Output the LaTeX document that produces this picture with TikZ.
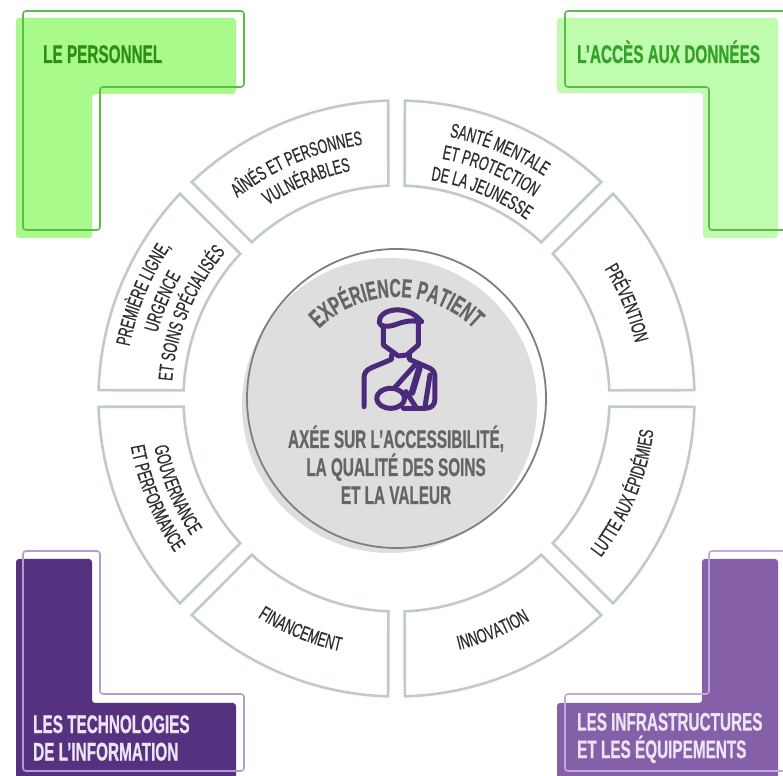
\documentclass[tikz,border=0pt]{standalone}
\usepackage{fontspec}
\usepackage{xcolor}
\usepackage{tikz}
\usetikzlibrary{decorations.text}

\newfontfamily\capfont[FakeStretch=0.60,FakeBold=0.6]{Liberation Sans}
\newfontfamily\segfont[FakeStretch=0.62,FakeBold=0.5]{Liberation Sans}

\definecolor{greenA}{HTML}{A8FB8A}
\definecolor{greenB}{HTML}{BFFCAE}
\definecolor{greenline}{HTML}{5DBB4B}
\definecolor{greentext}{HTML}{2F8F14}
\definecolor{greentextB}{HTML}{35A02A}
\definecolor{purpleA}{HTML}{56317F}
\definecolor{purpleB}{HTML}{8560A8}
\definecolor{purplelineA}{HTML}{B79AD2}
\definecolor{purplelineB}{HTML}{C4A8DE}
\definecolor{purpletext}{HTML}{EDE3F4}
\definecolor{ringline}{HTML}{BFCDC0}
\definecolor{disc}{HTML}{DEDEDE}
\definecolor{discline}{HTML}{7F7F7F}
\definecolor{disctext}{HTML}{656565}
\definecolor{iconline}{HTML}{4B2A7B}
\definecolor{segtext}{HTML}{2D2D33}

\tikzset{
	cornerfill/.style={rounded corners=3, draw=none},
	cornerline/.style={rounded corners=3, line width=1.6, fill=none},
	cornertext/.style={inner sep=0, align=left, font=\capfont\bfseries\fontsize{25.5}{27.5}\selectfont},
	disctitle/.style={inner sep=0, align=center, text=disctext, font=\capfont\bfseries\fontsize{25.5}{28}\selectfont},
	segment/.style={draw=ringline, line width=2.6, line join=miter, fill=white},
	iconstroke/.style={draw=iconline, line width=5, line cap=round, line join=round}
}

% tops of the letters towards the outside, read clockwise
\newcommand{\labelout}[3]{
	\path[decorate, decoration={text along path, text align=center, text={|\segfont\fontsize{20}{20}\selectfont\color{segtext}|#3}}]
		({#1+24}:#2) arc[start angle={#1+24}, end angle={#1-24}, radius=#2];
}
% tops of the letters towards the centre, read anticlockwise
\newcommand{\labelin}[3]{
	\path[decorate, decoration={text along path, text align=center, text={|\segfont\fontsize{20}{20}\selectfont\color{segtext}|#3}}]
		({#1-24}:#2) arc[start angle={#1-24}, end angle={#1+24}, radius=#2];
}

\begin{document}
\begin{tikzpicture}[x=1pt, y=1pt]
	\useasboundingbox (0,0) rectangle (783,775);
	\clip (0,0) rectangle (783,775);
	\fill[white] (0,0) rectangle (783,775);

	% Corners
	\fill[greenA, cornerfill] (16,757) -- (236,757) -- (236,681) -- (92,681) -- (92,537) -- (16,537) -- cycle;
	\draw[greenline, cornerline] (23,764) -- (244,764) -- (244,688) -- (100,688) -- (100,545) -- (23,545) -- cycle;
	\fill[greenB, cornerfill] (557,757) -- (778,757) -- (778,537) -- (703,537) -- (703,682) -- (557,682) -- cycle;
	\draw[greenline, cornerline] (565,764) -- (800,764) -- (800,545) -- (709,545) -- (709,688) -- (565,688) -- cycle;
	\fill[purpleA, cornerfill] (16,216) -- (92,216) -- (92,72) -- (236,72) -- (236,-10) -- (16,-10) -- cycle;
	\draw[purplelineA, cornerline] (23,224) -- (100,224) -- (100,81) -- (244,81) -- (244,4) -- (23,4) -- cycle;
	\fill[purpleB, cornerfill] (702,216) -- (778,216) -- (778,-10) -- (557,-10) -- (557,72) -- (702,72) -- cycle;
	\draw[purplelineB, cornerline] (709,224) -- (800,224) -- (800,4) -- (565,4) -- (565,81) -- (709,81) -- cycle;

	% Corner texts
	\node (personnel) [cornertext, text=greentext, anchor=base west] at (43,712) {LE PERSONNEL};
	\node (donnees) [cornertext, text=greentextB, anchor=base west] at (577,712) {L’ACCÈS AUX DONNÉES};
	\node (techno) [cornertext, text=purpletext, anchor=west] at (33,37) {LES TECHNOLOGIES\\DE L’INFORMATION};
	\node (infra) [cornertext, text=purpletext, anchor=west] at (577,37) {LES INFRASTRUCTURES\\ET LES ÉQUIPEMENTS};

	% Ring
	\begin{scope}[shift={(396.5,376.5)}]
		\foreach \a in {22.5,67.5,...,337.5}{
			\draw[segment] ({\a+20.9}:298) arc[start angle={\a+20.9}, end angle={\a-20.9}, radius=298]
				-- ({\a-20.3}:213) arc[start angle={\a-20.3}, end angle={\a+20.3}, radius=213] -- cycle;
		}
		\labelout{67.5}{267}{SANTÉ MENTALE}
		\labelout{67.5}{244}{ET PROTECTION}
		\labelout{67.5}{221}{DE LA JEUNESSE}
		\labelout{113}{256}{AÎNÉS ET PERSONNES}
		\labelout{112.5}{232}{VULNÉRABLES}
		\labelout{157.5}{272}{PREMIÈRE LIGNE,}
		\labelout{157.5}{248}{URGENCE}
		\labelout{157.5}{225}{ET SOINS SPÉCIALISÉS}
		\labelout{22.5}{245}{PRÉVENTION}
		\labelin{-22.5}{259}{LUTTE AUX ÉPIDÉMIES}
		\labelin{-67.5}{259}{INNOVATION}
		\labelin{-112.5}{259}{FINANCEMENT}
		\labelin{-157.5}{247}{GOUVERNANCE}
		\labelin{-157.5}{270}{ET PERFORMANCE}
	\end{scope}

	% Disc
	\fill[disc] (389.5,369.5) circle (147.5);
	\draw[discline, line width=1.8] (396.5,376.5) circle (149.5);
	\path[decorate, decoration={text along path, text align=center, text={|\capfont\bfseries\fontsize{26}{26}\selectfont\color{disctext}|EXPÉRIENCE PATIENT}}]
		(396.5,368) ++(150:110) arc[start angle=150, end angle=30, radius=110];
	\node (axee) [disctitle, anchor=base] at (396,327) {AXÉE SUR L’ACCESSIBILITÉ,};
	\node (qualite) [disctitle, anchor=base] at (396,299) {LA QUALITÉ DES SOINS};
	\node (valeur) [disctitle, anchor=base] at (396,271) {ET LA VALEUR};

	% Patient
	\begin{scope}[shift={(350,475)}, x=0.3333pt, y=-0.3333pt]
		\draw[iconstroke] (100,78) -- (100,135) -- (145,168) -- (170,165) -- (205,135) -- (205,68);
		\draw[iconstroke] (215,65) .. controls (190,35) and (160,28) .. (135,30) .. controls (105,32) and (85,50) .. (88,68) .. controls (90,82) and (115,80) .. (130,76) .. controls (150,70) and (170,58) .. (215,65);
		\draw[iconstroke] (125,165) -- (125,178) -- (65,203) .. controls (48,210) and (42,220) .. (42,235) -- (42,320);
		\draw[iconstroke] (178,160) -- (178,178) -- (240,205) .. controls (250,210) and (255,220) .. (255,232) -- (255,295) .. controls (255,315) and (245,325) .. (225,325) -- (160,325);
		\draw[iconstroke] (195,195) -- (135,262);
		\draw[iconstroke] (122,295) ellipse (42 and 30);
		\draw[iconstroke] (168,275) -- (198,322);
		\draw[iconstroke, line width=6.5] (208,205) -- (186,278);
		\draw[iconstroke] (240,225) -- (225,320);
	\end{scope}
\end{tikzpicture}
\end{document}
